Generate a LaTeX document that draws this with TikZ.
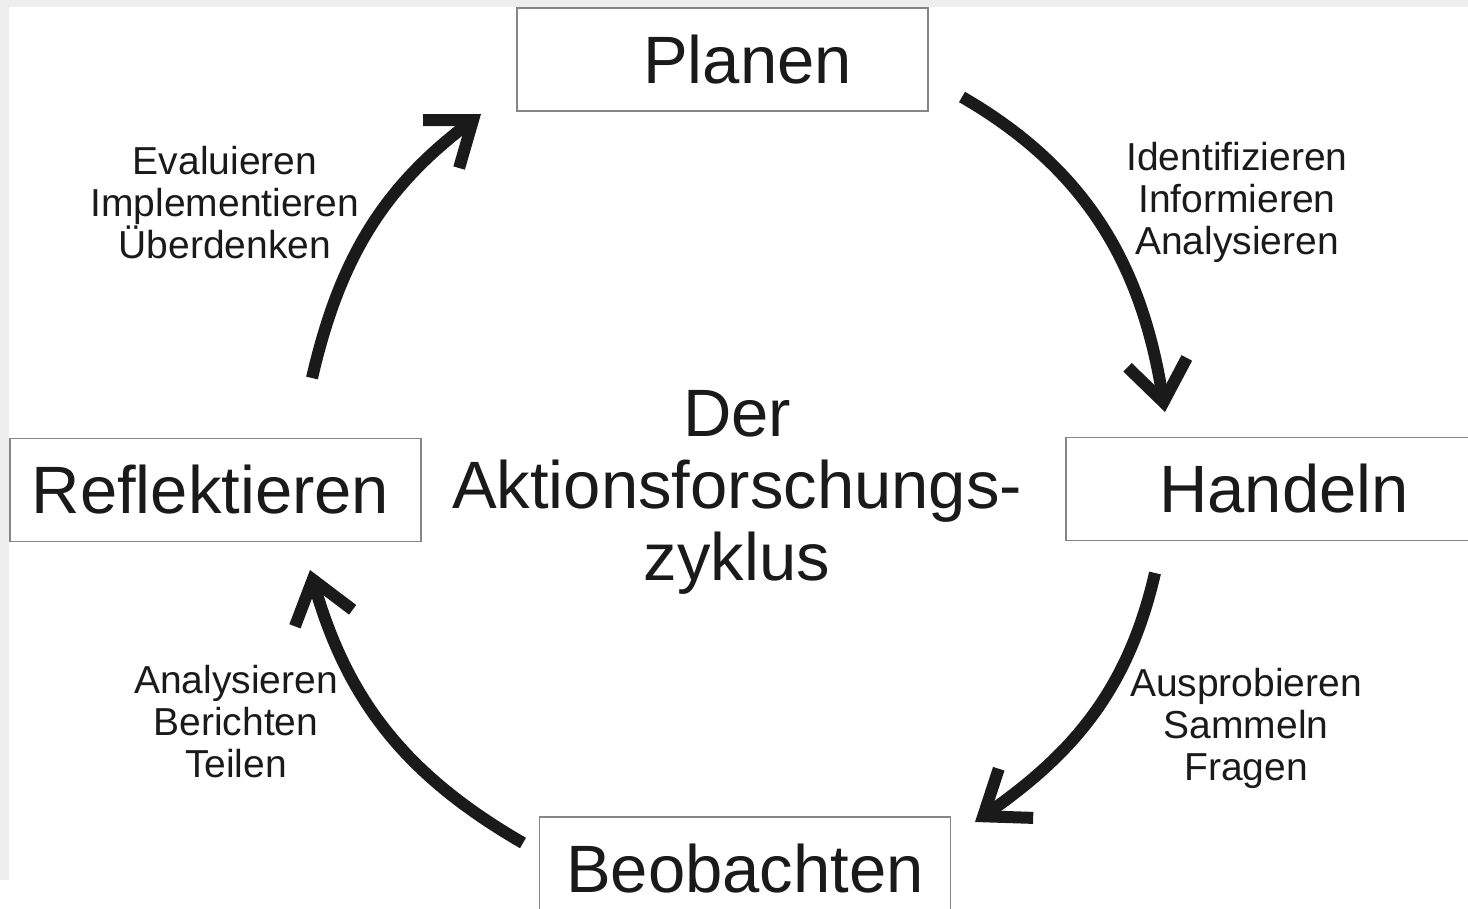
\documentclass[tikz,border=0pt]{standalone}
\usepackage{fontspec}
\setmainfont{Liberation Sans}
\usetikzlibrary{arrows.meta,positioning}
\definecolor{boxgray}{HTML}{858585}
\definecolor{inkgray}{HTML}{1A1A1A}
\definecolor{edgegray}{HTML}{EEEEEE}

\begin{document}
\begin{tikzpicture}[x=0.5pt, y=0.5pt,
    phase/.style={rectangle, draw=boxgray, line width=0.8pt, minimum width=205.5pt, minimum height=51.5pt, inner sep=0pt, text=inkgray, font=\fontsize{33.5}{36}\selectfont},
    title/.style={align=center, inner sep=0pt, text=inkgray, font=\fontsize{33.5}{36}\selectfont},
    steps/.style={align=center, inner sep=0pt, text=inkgray, font=\fontsize{19.5}{21}\selectfont},
    arrow/.style={line width=6pt, inkgray, -{Straight Barb[length=20pt, width=30pt]}}
]
\useasboundingbox (0,0) rectangle (1468,-909);

% Screenshot edge
\fill[edgegray] (0,0) rectangle (1468,-7);
\fill[edgegray] (0,0) rectangle (9,-880);

% Phases of the cycle
\node[phase] (planen) at (722.5,-59.5) {\hspace*{25pt}Planen};
\node[phase, minimum width=205pt] (handeln) at (1271,-489) {\hspace*{13pt}Handeln};
\node[phase] (beobachten) at (745,-868.5) {Beobachten};
\node[phase] (reflektieren) at (215.5,-490) {Reflektieren\hspace*{5pt}};

% Centre title
\node[title] (zyklus) at (737,-492) {Der\\Aktionsforschungs-\\zyklus};

% Activities
\node[steps] (plan_steps) at (1237,-202) {Identifizieren\\Informieren\\Analysieren};
\node[steps] (act_steps) at (1246,-728) {Ausprobieren\\Sammeln\\Fragen};
\node[steps] (obs_steps) at (236,-722) {Analysieren\\Berichten\\Teilen};
\node[steps] (refl_steps) at (225,-202.5) {Evaluieren\\Implementieren\\Überdenken};

% Arrow ends
\coordinate (a1s) at (962,-97);
\coordinate (a1e) at (1165,-412);
\coordinate (a2s) at (1155,-573);
\coordinate (a2e) at (975,-822);
\coordinate (a3s) at (523,-843);
\coordinate (a3e) at (310,-570);
\coordinate (a4s) at (312,-378);
\coordinate (a4e) at (481,-114);

% Cycle arrows
\draw[arrow] (a1s) to[out=-30, in=99] (a1e);
\draw[arrow] (a2s) to[out=-103, in=35] (a2e);
\draw[arrow] (a3s) to[out=150, in=-74] (a3e);
\draw[arrow] (a4s) to[out=77, in=-143] (a4e);

\end{tikzpicture}
\end{document}
